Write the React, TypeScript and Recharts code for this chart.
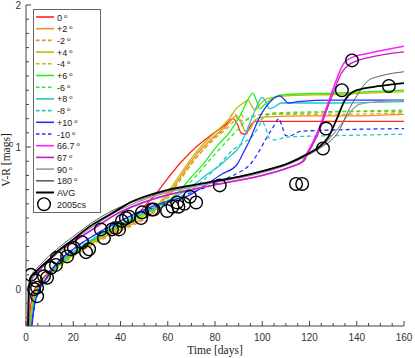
import React from 'react'
import {
  ComposedChart, Line, Scatter, XAxis, YAxis,
} from 'recharts'

type Pt = [number, number]

// model curves, [day, V-R]
const deg0: Pt[] = [[1, -0.3], [2, -0.12], [3, -0.03], [5, 0.03], [8, 0.09], [12, 0.16], [20, 0.26], [30, 0.36], [40, 0.44], [46, 0.5], [50, 0.58], [55, 0.67], [60, 0.78], [66, 0.9], [72, 1.0], [78, 1.08], [84, 1.15], [87.6, 1.2], [89.5, 1.16], [91, 1.1], [93, 1.09], [95, 1.15], [97, 1.18], [100, 1.18], [120, 1.18], [140, 1.18], [160, 1.18]]
const degP2: Pt[] = [[1.3, -0.3], [2.5, -0.12], [3.5, -0.04], [5, 0.01], [8, 0.07], [12, 0.14], [20, 0.24], [30, 0.34], [40, 0.42], [50, 0.5], [55, 0.56], [60, 0.66], [65, 0.78], [70, 0.9], [75, 1.0], [80, 1.08], [85, 1.15], [89, 1.22], [91, 1.17], [93, 1.11], [95, 1.13], [97, 1.19], [100, 1.21], [120, 1.22], [140, 1.22], [160, 1.23]]
const degM2: Pt[] = [[1.4, -0.3], [2.6, -0.12], [3.6, -0.04], [5, 0.0], [8, 0.06], [12, 0.13], [20, 0.23], [30, 0.33], [40, 0.41], [50, 0.49], [55, 0.55], [60, 0.64], [65, 0.76], [70, 0.88], [75, 0.98], [80, 1.07], [85, 1.15], [88, 1.24], [90, 1.2], [92, 1.18], [95, 1.21], [100, 1.23], [120, 1.24], [140, 1.25], [160, 1.25]]
const degP4: Pt[] = [[1.5, -0.3], [2.5, -0.12], [4, -0.03], [6, 0.03], [8, 0.07], [12, 0.14], [20, 0.24], [30, 0.35], [40, 0.44], [50, 0.52], [55, 0.58], [60, 0.68], [65, 0.8], [70, 0.92], [75, 1.02], [80, 1.1], [86, 1.2], [89, 1.27], [92, 1.31], [94, 1.33], [95.5, 1.29], [97, 1.26], [99, 1.3], [102, 1.34], [110, 1.36], [130, 1.37], [160, 1.39]]
const degM4: Pt[] = [[1.6, -0.3], [2.7, -0.12], [4, -0.04], [6, 0.02], [8, 0.06], [12, 0.13], [20, 0.23], [30, 0.34], [40, 0.43], [50, 0.51], [55, 0.57], [60, 0.66], [65, 0.77], [70, 0.88], [75, 0.98], [80, 1.06], [85, 1.13], [89, 1.2], [91, 1.23], [93, 1.19], [95, 1.21], [100, 1.23], [130, 1.23], [160, 1.24]]
const degP6: Pt[] = [[1.8, -0.3], [3, -0.12], [4.5, -0.03], [6, 0.02], [8, 0.06], [12, 0.14], [20, 0.25], [30, 0.36], [40, 0.45], [50, 0.53], [60, 0.62], [65, 0.69], [69, 0.77], [75, 0.88], [81, 1.01], [86, 1.1], [90.6, 1.22], [93.5, 1.32], [96, 1.38], [97.5, 1.33], [99, 1.27], [101, 1.3], [104, 1.34], [110, 1.37], [130, 1.38], [160, 1.4]]
const degM6: Pt[] = [[1.9, -0.3], [3.1, -0.12], [4.6, -0.03], [6, 0.01], [8, 0.06], [12, 0.14], [20, 0.25], [30, 0.36], [40, 0.45], [50, 0.53], [60, 0.6], [70, 0.76], [80, 0.95], [85, 1.04], [90, 1.13], [94, 1.2], [96, 1.22], [98, 1.17], [100, 1.2], [105, 1.24], [130, 1.25], [160, 1.26]]
const degP8: Pt[] = [[2, -0.3], [3.2, -0.12], [5, -0.02], [8, 0.06], [12, 0.15], [20, 0.26], [30, 0.37], [40, 0.46], [50, 0.54], [60, 0.62], [70, 0.72], [76, 0.8], [82, 0.87], [86, 0.93], [90.6, 1.01], [93, 1.1], [96, 1.22], [98, 1.3], [100, 1.35], [101.5, 1.32], [103, 1.27], [105, 1.28], [108, 1.31], [130, 1.31], [160, 1.32]]
const degM8: Pt[] = [[2.1, -0.3], [3.3, -0.12], [5, -0.02], [8, 0.06], [12, 0.15], [20, 0.26], [30, 0.37], [40, 0.46], [50, 0.54], [60, 0.6], [70, 0.7], [76.6, 0.79], [82, 0.88], [87.6, 0.98], [93, 1.04], [96, 1.08], [98, 1.13], [100, 1.18], [101.5, 1.13], [103, 1.06], [106, 1.05], [110, 1.07], [130, 1.08], [160, 1.09]]
const degP10: Pt[] = [[2.2, -0.3], [3.5, -0.12], [5, -0.03], [8, 0.06], [12, 0.16], [20, 0.28], [30, 0.39], [40, 0.48], [50, 0.56], [60, 0.62], [69, 0.66], [76.6, 0.74], [83, 0.81], [89, 0.87], [92, 0.96], [95, 1.06], [98, 1.18], [101, 1.27], [104, 1.33], [107.5, 1.36], [109, 1.34], [111, 1.31], [115, 1.32], [130, 1.33], [160, 1.33]]
const degM10: Pt[] = [[2.3, -0.3], [3.6, -0.12], [5, -0.03], [8, 0.06], [12, 0.16], [20, 0.28], [30, 0.39], [40, 0.48], [50, 0.55], [60, 0.61], [70, 0.68], [80, 0.74], [85, 0.78], [90, 0.82], [95, 0.88], [99, 0.98], [102, 1.07], [105, 1.15], [107, 1.2], [108.5, 1.14], [110, 1.08], [112, 1.08], [116, 1.11], [130, 1.12], [160, 1.13]]
const deg667: Pt[] = [[1, -0.3], [1.4, 0.0], [2.5, 0.07], [6, 0.14], [13, 0.25], [20, 0.33], [30, 0.44], [38.5, 0.53], [45, 0.58], [55, 0.64], [70, 0.7], [85, 0.75], [100, 0.8], [112, 0.86], [117, 0.9], [119, 0.96], [121, 1.02], [124, 1.13], [127, 1.27], [130, 1.41], [133, 1.54], [135, 1.6], [138, 1.63], [145, 1.66], [160, 1.71]]
const deg67: Pt[] = [[1.1, -0.3], [1.5, 0.0], [2.6, 0.07], [6, 0.14], [13, 0.25], [20, 0.33], [30, 0.44], [38.5, 0.53], [45, 0.58], [55, 0.64], [70, 0.7], [85, 0.75], [100, 0.8], [112, 0.86], [117.5, 0.9], [119.5, 0.96], [121.5, 1.02], [124.5, 1.13], [127.5, 1.27], [130.5, 1.4], [133.5, 1.52], [136, 1.57], [139, 1.6], [145, 1.63], [160, 1.67]]
const deg90: Pt[] = [[1, -0.3], [1.5, 0.0], [2.5, 0.07], [6, 0.15], [13, 0.25], [20, 0.34], [30, 0.46], [40, 0.56], [50, 0.63], [60, 0.68], [80, 0.75], [100, 0.82], [110, 0.87], [120, 0.95], [125, 1.0], [129, 1.07], [133, 1.15], [136, 1.22], [141, 1.3], [150, 1.32], [160, 1.33]]
const deg180: Pt[] = [[0.9, -0.3], [1.3, 0.0], [2.2, 0.09], [6, 0.17], [13, 0.28], [20, 0.37], [30, 0.49], [40, 0.58], [50, 0.64], [60, 0.69], [80, 0.76], [100, 0.83], [110, 0.88], [120, 0.95], [125, 1.0], [130, 1.06], [133, 1.13], [136, 1.24], [140, 1.36], [145, 1.47], [150, 1.5], [160, 1.53]]
const avg: Pt[] = [[0.8, -0.3], [1.2, 0.0], [2, 0.08], [4, 0.12], [6.5, 0.16], [10, 0.21], [13, 0.26], [20, 0.35], [27, 0.44], [34, 0.51], [40, 0.57], [44, 0.61], [50, 0.65], [58, 0.69], [70, 0.73], [80, 0.76], [90, 0.79], [100, 0.83], [111.7, 0.89], [119, 0.95], [124, 1.0], [128, 1.07], [131.6, 1.2], [135, 1.33], [140, 1.4], [150, 1.43], [160, 1.45]]

// SN 2005cs observations
const obsDays = [2.1, 3.4, 4.2, 4.7, 4.7, 7.6, 8.9, 10.6, 12.7, 13.1, 17.4, 19, 20.3, 23.7, 25.4, 26.7, 31.7, 33, 36.4, 38, 39.4, 40.6, 42.3, 43.6, 48.7, 49.1, 53.3, 54, 59.7, 62, 64, 64.5, 67, 69.4, 72, 82, 114.3, 116.9, 125.7, 127, 133.7, 138, 153.6]
const obsVR = [0.1, 0.0, 0.06, 0.01, -0.05, 0.09, 0.08, 0.15, 0.17, 0.22, 0.23, 0.28, 0.29, 0.33, 0.26, 0.28, 0.42, 0.36, 0.42, 0.43, 0.42, 0.48, 0.5, 0.51, 0.5, 0.54, 0.56, 0.56, 0.55, 0.58, 0.61, 0.58, 0.6, 0.65, 0.61, 0.73, 0.74, 0.74, 0.99, 1.13, 1.4, 1.61, 1.43]

const xTicks = [0, 5, 10, 15, 20, 25, 30, 35, 40, 45, 50, 55, 60, 65, 70, 75, 80, 85, 90, 95, 100, 105, 110, 115, 120, 125, 130, 135, 140, 145, 150, 155, 160]
const yTicks = [-0.2, -0.1, 0, 0.1, 0.2, 0.3, 0.4, 0.5, 0.6, 0.7, 0.8, 0.9, 1, 1.1, 1.2, 1.3, 1.4, 1.5, 1.6, 1.7, 1.8, 1.9, 2]

const SERIES = [
  { name: '0', label: '0', pts: deg0, color: '#ff2020', dash: false, w: 1.3 },
  { name: 'p2', label: '+2', pts: degP2, color: '#e8902a', dash: false, w: 1.3 },
  { name: 'm2', label: '-2', pts: degM2, color: '#e8902a', dash: true, w: 1.3 },
  { name: 'p4', label: '+4', pts: degP4, color: '#c8b800', dash: false, w: 1.3 },
  { name: 'm4', label: '-4', pts: degM4, color: '#c8b800', dash: true, w: 1.3 },
  { name: 'p6', label: '+6', pts: degP6, color: '#20f020', dash: false, w: 1.3 },
  { name: 'm6', label: '-6', pts: degM6, color: '#20f020', dash: true, w: 1.3 },
  { name: 'p8', label: '+8', pts: degP8, color: '#20c8c8', dash: false, w: 1.3 },
  { name: 'm8', label: '-8', pts: degM8, color: '#20c8c8', dash: true, w: 1.3 },
  { name: 'p10', label: '+10', pts: degP10, color: '#2030ff', dash: false, w: 1.3 },
  { name: 'm10', label: '-10', pts: degM10, color: '#2030ff', dash: true, w: 1.3 },
  { name: 'a667', label: '66.7', pts: deg667, color: '#ff20ff', dash: false, w: 1.5 },
  { name: 'a67', label: '67', pts: deg67, color: '#c020c0', dash: false, w: 1.3 },
  { name: 'a90', label: '90', pts: deg90, color: '#9a9a9a', dash: false, w: 1.2 },
  { name: 'a180', label: '180', pts: deg180, color: '#606060', dash: false, w: 1 },
  { name: 'avg', label: 'AVG', pts: avg, color: '#000000', dash: false, w: 1.8 },
]

const obs = obsDays.map((d, i) => ({ d, v: obsVR[i] }))

const SANS = '"Liberation Sans", Arial, sans-serif'
const SERIF = '"Liberation Serif", "Times New Roman", serif'

function BottomTick({ x, y, payload }: any) {
  const major = payload.value % 20 === 0
  return (
    <g>
      <line x1={x} x2={x} y1={y} y2={y - (major ? 5 : 3)} stroke="#444" />
      {major && <text x={x} y={y + 15} textAnchor="middle" fontSize={10} fontFamily={SANS} fill="#333">{payload.value}</text>}
    </g>
  )
}
function TopTick({ x, y, payload }: any) {
  const major = payload.value % 20 === 0
  return <line x1={x} x2={x} y1={y} y2={y + (major ? 5 : 3)} stroke="#444" />
}
function LeftTick({ x, y, payload }: any) {
  const v = Math.round(payload.value * 10)
  const major = v % 10 === 0
  return (
    <g>
      <line x1={x} x2={x + (major ? 5 : 3)} y1={y} y2={y} stroke="#444" />
      {major && <text x={x - 5} y={y + 4} textAnchor="end" fontSize={10} fontFamily={SANS} fill="#333">{v / 10}</text>}
    </g>
  )
}
function RightTick({ x, y, payload }: any) {
  const major = Math.round(payload.value * 10) % 10 === 0
  return <line x1={x} x2={x - (major ? 5 : 3)} y1={y} y2={y} stroke="#444" />
}

const Ring = (p: any) => <circle cx={p.cx} cy={p.cy} r={6.3} fill="none" stroke="#000" strokeWidth={1.4} />

function LegendBox() {
  const rows = [...SERIES.map(s => ({ ...s, deg: s.name !== 'avg' })), { name: 'obs', label: '2005cs', color: '#000', dash: false, w: 1, deg: false }]
  return (
    <svg width={70} height={206} style={{ position: 'absolute', left: 33, top: 9 }}>
      <rect x={0.5} y={0.5} width={67} height={203} fill="#fff" stroke="#666" />
      {rows.map((r, i) => {
        const cy = 8 + i * 11.7
        return (
          <g key={r.name}>
            {r.name === 'obs'
              ? <circle cx={11} cy={cy} r={6.3} fill="none" stroke="#000" strokeWidth={1.4} />
              : <line x1={3} x2={21} y1={cy} y2={cy} stroke={r.color} strokeWidth={r.name === 'avg' ? 2 : 1.6} strokeDasharray={r.dash ? '3.5 2.5' : undefined} />}
            <text x={24} y={cy + 3.5} fontSize={9} fontFamily={SANS} fill="#222">
              {r.label}
              {r.deg && <tspan dx={2} dy={-3} fontSize={6}>o</tspan>}
            </text>
          </g>
        )
      })}
    </svg>
  )
}

export default function App() {
  return (
    <div style={{ position: 'absolute', left: 0, top: 0, width: 415, height: 358, background: '#fff' }}>
      <ComposedChart width={415} height={358} margin={{ top: 5, right: 11, bottom: 0, left: 0 }}>
        <XAxis xAxisId="b" dataKey="d" type="number" domain={[0, 160]} ticks={xTicks} allowDataOverflow
          height={32} tickSize={0} tickMargin={0} tickLine={false} axisLine={{ stroke: '#444' }} tick={<BottomTick />} interval={0} />
        <XAxis xAxisId="t" orientation="top" dataKey="d" type="number" domain={[0, 160]} ticks={xTicks} allowDataOverflow
          height={0} tickSize={0} tickMargin={0} tickLine={false} axisLine={{ stroke: '#444' }} tick={<TopTick />} interval={0} />
        <YAxis yAxisId="l" type="number" domain={[-0.26, 2]} ticks={yTicks} allowDataOverflow
          width={26} tickSize={0} tickMargin={0} tickLine={false} axisLine={{ stroke: '#444' }} tick={<LeftTick />} interval={0} />
        <YAxis yAxisId="r" orientation="right" type="number" domain={[-0.26, 2]} ticks={yTicks} allowDataOverflow
          width={0} tickSize={0} tickMargin={0} tickLine={false} axisLine={{ stroke: '#444' }} tick={<RightTick />} interval={0} />
        {SERIES.map(s => (
          <Line key={s.name} xAxisId="b" yAxisId="l" data={s.pts.map(([d, v]) => ({ d, v }))} dataKey="v"
            type="monotone" stroke={s.color} strokeWidth={s.w} strokeDasharray={s.dash ? '4 3' : undefined}
            dot={false} activeDot={false} isAnimationActive={false} />
        ))}
        <Scatter xAxisId="b" yAxisId="l" data={obs} dataKey="v" shape={<Ring />} isAnimationActive={false} />
        <text x={215} y={354} textAnchor="middle" fontSize={11.5} fontFamily={SERIF} fill="#222">Time [days]</text>
        <text x={10} y={160} textAnchor="middle" fontSize={11.5} fontFamily={SERIF} fill="#222" transform="rotate(-90 10 160)">V-R [mags]</text>
      </ComposedChart>
      <LegendBox />
    </div>
  )
}
